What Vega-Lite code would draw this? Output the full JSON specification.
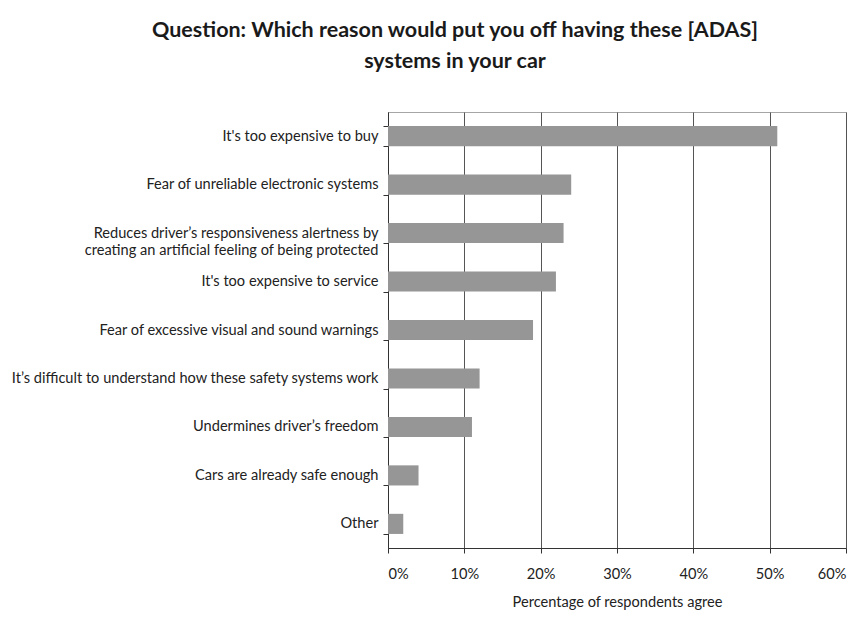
{
  "$schema": "https://vega.github.io/schema/vega-lite/v6.json",
  "autosize": {"type": "none"},
  "padding": {"left": 388, "top": 112, "right": 21, "bottom": 74},
  "width": 458,
  "height": 436,
  "background": "white",
  "title": {
    "text": ["Question: Which reason would put you off having these [ADAS]", "systems in your car"],
    "font": "Lato",
    "fontSize": 21.5,
    "fontWeight": "bold",
    "color": "#1a1a1a",
    "lineHeight": 31,
    "anchor": "middle",
    "dx": -162,
    "offset": 32
  },
  "data": {
    "values": [
      {"reason": "It's too expensive to buy", "pct": 51},
      {"reason": "Fear of unreliable electronic systems", "pct": 24},
      {"reason": "Reduces driver’s responsiveness alertness by |creating an artificial feeling of being protected", "pct": 23},
      {"reason": "It's too expensive to service", "pct": 22},
      {"reason": "Fear of excessive visual and sound warnings", "pct": 19},
      {"reason": "It’s difficult to understand how these safety systems work", "pct": 12},
      {"reason": "Undermines driver’s freedom", "pct": 11},
      {"reason": "Cars are already safe enough", "pct": 4},
      {"reason": "Other", "pct": 2}
    ]
  },
  "mark": {"type": "bar", "color": "#969696"},
  "encoding": {
    "y": {
      "field": "reason",
      "type": "nominal",
      "sort": null,
      "scale": {"paddingInner": 0.585, "paddingOuter": 0.29},
      "axis": {
        "title": null,
        "labelExpr": "isString(datum.value) ? split(datum.value, '|') : ''",
        "labelFont": "Lato",
        "labelFontSize": 14.6,
        "labelColor": "#222",
        "labelLimit": 420,
        "labelLineHeight": 17,
        "labelPadding": 5,
        "tickBand": "extent",
        "tickSize": 5,
        "tickColor": "#333",
        "domainColor": "#333",
        "grid": false
      }
    },
    "x": {
      "field": "pct",
      "type": "quantitative",
      "scale": {"domain": [0, 60], "nice": false},
      "axis": {
        "title": "Percentage of respondents agree",
        "titleFont": "Lato",
        "titleFontSize": 14.6,
        "titleFontWeight": "normal",
        "titleColor": "#222",
        "titlePadding": 14,
        "values": [0, 10, 20, 30, 40, 50, 60],
        "labelExpr": "datum.value + '%'",
        "labelFont": "Lato",
        "labelFontSize": 14.6,
        "labelColor": "#222",
        "labelPadding": 13,
        "tickSize": 5,
        "tickColor": "#333",
        "domainColor": "#333",
        "grid": true,
        "gridColor": "#555",
        "gridWidth": 1,
        "gridOpacity": 1
      }
    }
  },
  "config": {
    "view": {"stroke": "#a6a6a6"}
  }
}
